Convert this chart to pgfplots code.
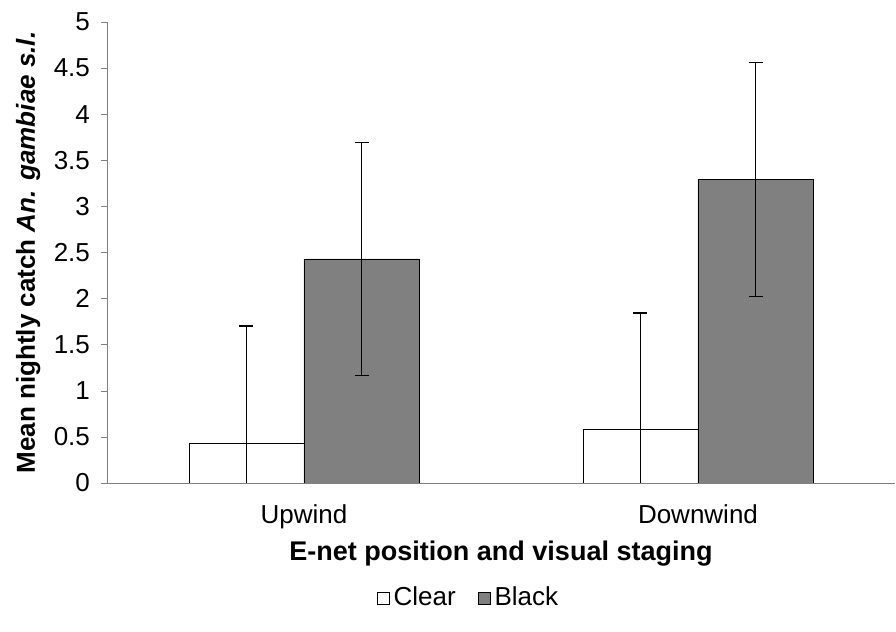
\documentclass[border=0pt]{standalone}
\usepackage{pgfplots}
\pgfplotsset{compat=1.18}
\usepackage{fontspec}
\setmainfont{Liberation Sans}
\begin{document}
\begin{tikzpicture}
\begin{axis}[
    scale only axis,
    width=394pt, height=230.5pt,
    xmin=-0.5, xmax=1.5,
    ymin=0, ymax=5,
    ytick={0,0.5,...,5},
    yticklabel style={/pgf/number format/fixed},
    /pgf/number format/assume math mode=true,
    xtick={0,1},
    xticklabels={Upwind, Downwind},
    x tick style={draw=none},
    extra x ticks={-0.5,0.5,1.5},
    extra x tick labels={},
    extra x tick style={tick style={draw=gray}},
    major tick length=3pt,
    axis x line=bottom, axis y line=left,
    axis line style={-, gray},
    y tick style={gray},
    tick align=outside,
    ticklabel style={font=\fontsize{13}{15}\selectfont},
    xticklabel style={anchor=base, yshift=-17.5pt},
    yticklabel style={anchor=east, xshift=-2pt},
    xlabel={\textbf{E-net position and visual staging}},
    xlabel style={font=\fontsize{13.5}{16}\selectfont, at={(axis description cs:0.5,0)}, anchor=center, yshift=-35.5pt},
    ylabel={\textbf{Mean nightly catch \textit{An. gambiae s.l.}}},
    ylabel style={font=\fontsize{13}{15}\selectfont, at={(axis description cs:-0.1,0.5)}, anchor=center},
    ybar, bar width=0.292,
    legend style={at={(0.46,0)}, anchor=center, yshift=-57.5pt, draw=none,
        legend columns=2, font=\fontsize{13}{15}\selectfont,
        /tikz/every even column/.append style={column sep=9pt}},
    legend image code/.code={\draw[#1, draw=black, line width=0.4pt] (0pt,-3pt) rectangle (6pt,3pt);},
    error bars/error bar style={black, line width=0.65pt},
    error bars/error mark options={rotate=90, mark size=3.5pt, line width=0.65pt},
]
\addplot[fill=white, draw=black, bar shift=-0.146,
    error bars/.cd, y dir=both, y explicit]
    coordinates {(0,0.434) +- (0,1.27) (1,0.585) +- (0,1.26)};
\addplot[fill=black!50, draw=black, bar shift=0.146,
    error bars/.cd, y dir=both, y explicit]
    coordinates {(0,2.43) +- (0,1.265) (1,3.29) +- (0,1.27)};
\legend{Clear, Black}
\end{axis}
\pgfresetboundingbox
\path[use as bounding box] ([xshift=-53.5pt, yshift=-74.5pt]current axis.south west)
    rectangle ([xshift=394.5pt, yshift=241.5pt]current axis.south west);
\end{tikzpicture}
\end{document}
